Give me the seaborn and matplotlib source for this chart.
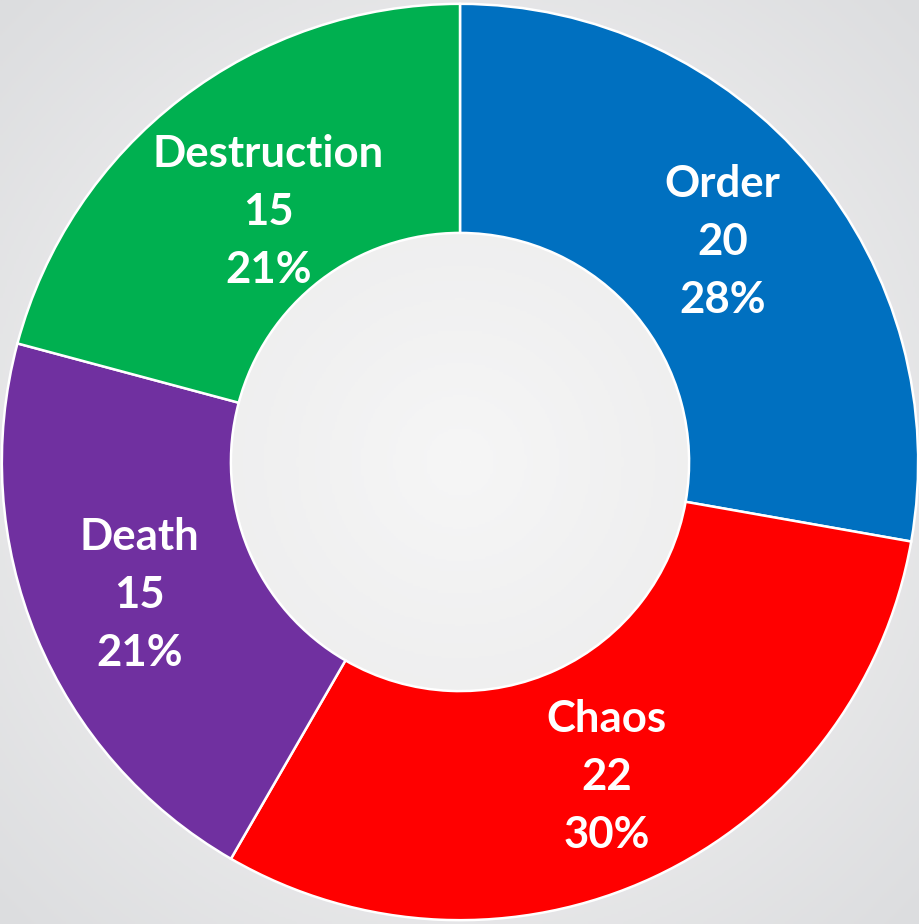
import numpy as np
import seaborn as sns
import matplotlib.pyplot as plt
from matplotlib.colors import LinearSegmentedColormap

# =============================================
# chart values
categories = ['Order', 'Chaos', 'Death', 'Destruction']
counts = [20, 22, 15, 15]
pct_labels = ['28%', '30%', '21%', '21%']
colors = ['#0070C0', '#FF0000', '#7030A0', '#00B050']
label_radius = [0.745, 0.755, 0.755, 0.685]

sns.set_theme(style="white")
plt.rcParams['font.family'] = ['Lato', 'DejaVu Sans']

fig = plt.figure(figsize=(9.2, 9.24), dpi=100)

# background: soft radial grey gradient
bg = fig.add_axes([0, 0, 1, 1])
yy, xx = np.mgrid[-1:1:400j, -1:1:400j]
rr = np.sqrt(xx ** 2 + yy ** 2) / np.sqrt(2)
bg_cmap = LinearSegmentedColormap.from_list('bg', ['#f6f6f6', '#ececed', '#dcdddf'])
bg.imshow(rr, cmap=bg_cmap, extent=[0, 1, 0, 1], aspect='auto', vmin=0, vmax=1)
bg.set_axis_off()

ax = fig.add_axes([0, 0, 1, 1])
ax.set_facecolor('none')
wedges, _ = ax.pie(counts, colors=colors, startangle=90, counterclock=False, radius=0.996,
                   wedgeprops=dict(width=0.498, edgecolor='white', linewidth=1.8))

total = sum(counts)
angle = 90.0
for cat, n, pct, r in zip(categories, counts, pct_labels, label_radius):
    span = n / total * 360
    mid = np.deg2rad(angle - span / 2)
    angle -= span
    ax.text(r * np.cos(mid), r * np.sin(mid), f"{cat}\n{n}\n{pct}", color='white',
            fontsize=31.5, fontweight='bold', ha='center', va='center', linespacing=1.55)

ax.set_xlim(-1, 1)
ax.set_ylim(-1, 1)
ax.set_aspect('equal')
ax.set_axis_off()

plt.savefig('out.png', dpi=100)
plt.close()
